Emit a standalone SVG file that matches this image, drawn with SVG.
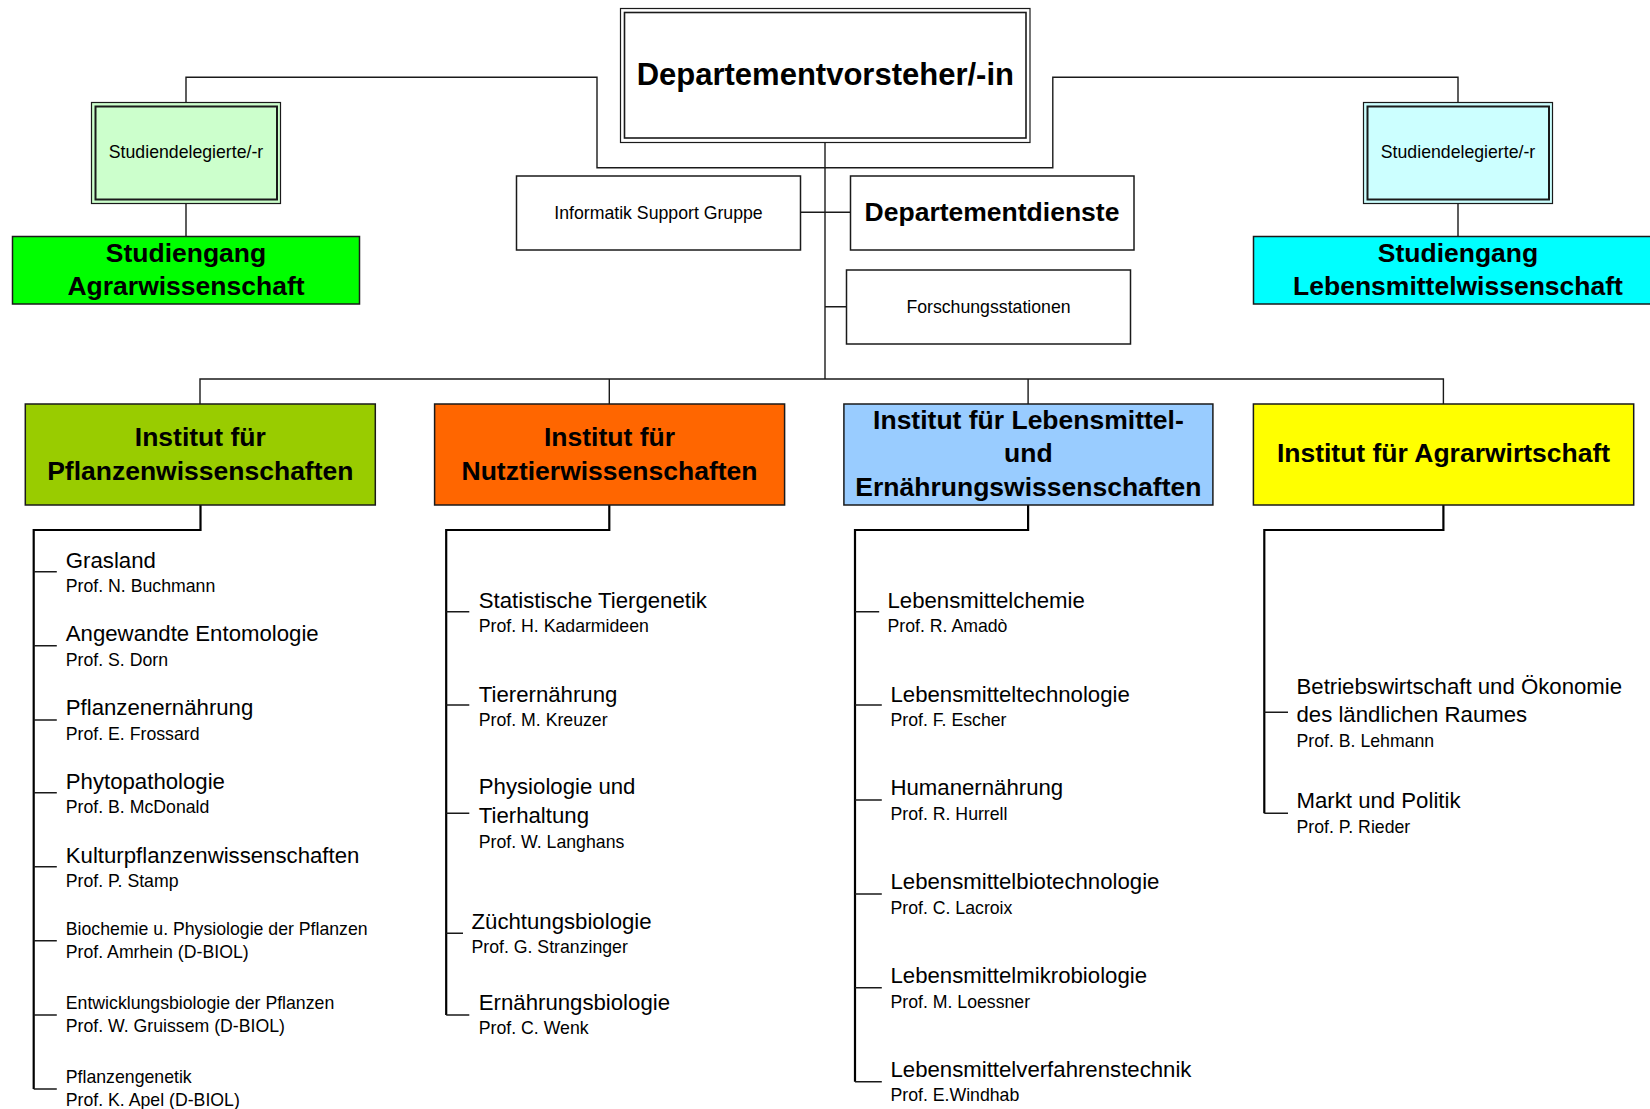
<svg xmlns="http://www.w3.org/2000/svg" width="1650" height="1109" viewBox="0 0 1650 1109">
<style>
text{font-family:"Liberation Sans",Arial,sans-serif;fill:#000}
.h1{font-size:31px;font-weight:bold}
.h2{font-size:26.5px;font-weight:bold}
.t{font-size:22.2px}
.s{font-size:17.7px}
.m{text-anchor:middle}
.box{stroke:#1a1a1a;stroke-width:1.5}
.con{fill:none;stroke:#1a1a1a;stroke-width:1.4}
.col{fill:none;stroke:#000;stroke-width:2.2}
.tick{fill:none;stroke:#1a1a1a;stroke-width:1.4}
</style>
<rect width="1650" height="1109" fill="#fff"/>
<g id="connectors">
<path class="con" d="M186 102.5V77.3H597V167.7H825"/>
<path class="con" d="M1458 102.5V77.3H1052.8V167.7H825"/>
<path class="con" d="M186 203.5V236.5M1458 203.5V236.5"/>
<path class="con" d="M825 142.7V379"/>
<path class="con" d="M800.5 212.3H850.5M825 306.7H846.5"/>
<path class="con" d="M200 404V379H1443.4V404M609.3 379V404M1028.1 379V404"/>
<path class="col" d="M200.5 505V530H33.7V1089"/>
<path class="col" d="M609.3 505V530H446.2V1015"/>
<path class="col" d="M1028.1 505V530H855V1081.7"/>
<path class="col" d="M1443.4 505V530H1264.3V813.3"/>
<path class="tick" d="M33.7 571.7H56.8M33.7 645.7H56.8M33.7 720H56.8M33.7 792.7H56.8M33.7 866.7H56.8M33.7 940.7H56.8M33.7 1015H56.8M33.7 1089H56.8"/>
<path class="tick" d="M446.2 611.7H469.3M446.2 705H469.3M446.2 813.3H469.3M446.2 933.3H463M446.2 1015H469.3"/>
<path class="tick" d="M855 611.7H879.2M855 705H881.8M855 800H881.8M855 894H881.8M855 987.7H881.8M855 1081.7H881.8"/>
<path class="tick" d="M1264.3 712.3H1288M1264.3 813.3H1288"/>
</g>
<g id="vorsteher">
<rect x="620.5" y="8.5" width="409.5" height="134" fill="#fff" stroke="#1a1a1a" stroke-width="1.2"/>
<rect x="624.5" y="12.5" width="401.5" height="125.5" fill="none" stroke="#1a1a1a" stroke-width="1.6"/>
<text class="h1 m" x="825.3" y="84.5">Departementvorsteher/-in</text>
</g>
<g id="studdel-agrar">
<rect x="91.5" y="102.5" width="189" height="101" fill="#CCFFCC" stroke="#1a1a1a" stroke-width="1.2"/>
<rect x="95.5" y="106.5" width="181.5" height="93" fill="none" stroke="#1a1a1a" stroke-width="2"/>
<text class="s m" x="186" y="157.7">Studiendelegierte/-r</text>
</g>
<g id="studdel-leb">
<rect x="1363.5" y="102.5" width="189" height="101" fill="#CCFFFF" stroke="#1a1a1a" stroke-width="1.2"/>
<rect x="1367.5" y="106.5" width="181.5" height="93" fill="none" stroke="#1a1a1a" stroke-width="2"/>
<text class="s m" x="1458" y="157.7">Studiendelegierte/-r</text>
</g>
<g id="studiengang-agrar">
<rect class="box" x="12.5" y="236.5" width="347" height="67.5" fill="#00FF00"/>
<text class="h2 m" x="186" y="261.5">Studiengang</text>
<text class="h2 m" x="186" y="295">Agrarwissenschaft</text>
</g>
<g id="studiengang-leb">
<rect class="box" x="1253.5" y="236.5" width="410" height="67.5" fill="#00FFFF"/>
<text class="h2 m" x="1458" y="261.5">Studiengang</text>
<text class="h2 m" x="1458" y="295">Lebensmittelwissenschaft</text>
</g>
<g id="informatik">
<rect class="box" x="516.5" y="176" width="284" height="74" fill="#fff"/>
<text class="s m" x="658.5" y="218.5">Informatik Support Gruppe</text>
</g>
<g id="dienste">
<rect class="box" x="850.5" y="176" width="283.5" height="74" fill="#fff"/>
<text class="h2 m" x="992" y="221">Departementdienste</text>
</g>
<g id="forschung">
<rect class="box" x="846.5" y="270" width="284" height="74" fill="#fff"/>
<text class="s m" x="988.5" y="313">Forschungsstationen</text>
</g>
<g id="inst-pflanzen">
<rect class="box" x="25.3" y="404" width="350" height="101" fill="#99CC00"/>
<text class="h2 m" x="200.3" y="446">Institut für</text>
<text class="h2 m" x="200.3" y="480">Pflanzenwissenschaften</text>
</g>
<g id="inst-nutztier">
<rect class="box" x="434.6" y="404" width="350" height="101" fill="#FF6600"/>
<text class="h2 m" x="609.5" y="446">Institut für</text>
<text class="h2 m" x="609.5" y="480">Nutztierwissenschaften</text>
</g>
<g id="inst-lebensmittel">
<rect class="box" x="843.9" y="404" width="369" height="101" fill="#99CCFF"/>
<text class="h2 m" x="1028.4" y="428.5">Institut für Lebensmittel-</text>
<text class="h2 m" x="1028.4" y="462">und</text>
<text class="h2 m" x="1028.4" y="496">Ernährungswissenschaften</text>
</g>
<g id="inst-agrarwirtschaft">
<rect class="box" x="1253.4" y="404" width="380.3" height="101" fill="#FFFF00"/>
<text class="h2 m" x="1443.5" y="462">Institut für Agrarwirtschaft</text>
</g>
<g id="col-pflanzen">
<text class="t" x="65.8" y="567.5">Grasland</text><text class="s" x="65.8" y="591.5">Prof. N. Buchmann</text>
<text class="t" x="65.8" y="641">Angewandte Entomologie</text><text class="s" x="65.8" y="665.5">Prof. S. Dorn</text>
<text class="t" x="65.8" y="715">Pflanzenernährung</text><text class="s" x="65.8" y="739.5">Prof. E. Frossard</text>
<text class="t" x="65.8" y="788.5">Phytopathologie</text><text class="s" x="65.8" y="812.5">Prof. B. McDonald</text>
<text class="t" x="65.8" y="862.5">Kulturpflanzenwissenschaften</text><text class="s" x="65.8" y="886.5">Prof. P. Stamp</text>
<text class="s" x="65.8" y="934.5">Biochemie u. Physiologie der Pflanzen</text><text class="s" x="65.8" y="958">Prof. Amrhein (D-BIOL)</text>
<text class="s" x="65.8" y="1008.8">Entwicklungsbiologie der Pflanzen</text><text class="s" x="65.8" y="1032">Prof. W. Gruissem (D-BIOL)</text>
<text class="s" x="65.8" y="1082.8">Pflanzengenetik</text><text class="s" x="65.8" y="1106">Prof. K. Apel (D-BIOL)</text>
</g>
<g id="col-nutztier">
<text class="t" x="478.8" y="607.5">Statistische Tiergenetik</text><text class="s" x="478.8" y="631.5">Prof. H. Kadarmideen</text>
<text class="t" x="478.8" y="701.5">Tierernährung</text><text class="s" x="478.8" y="725.5">Prof. M. Kreuzer</text>
<text class="t" x="478.8" y="794">Physiologie und</text><text class="t" x="478.8" y="823.3">Tierhaltung</text><text class="s" x="478.8" y="848">Prof. W. Langhans</text>
<text class="t" x="471.5" y="929">Züchtungsbiologie</text><text class="s" x="471.5" y="953">Prof. G. Stranzinger</text>
<text class="t" x="478.8" y="1010">Ernährungsbiologie</text><text class="s" x="478.8" y="1034">Prof. C. Wenk</text>
</g>
<g id="col-lebensmittel">
<text class="t" x="887.5" y="607.5">Lebensmittelchemie</text><text class="s" x="887.5" y="631.5">Prof. R. Amadò</text>
<text class="t" x="890.5" y="701.5">Lebensmitteltechnologie</text><text class="s" x="890.5" y="725.5">Prof. F. Escher</text>
<text class="t" x="890.5" y="795">Humanernährung</text><text class="s" x="890.5" y="819.5">Prof. R. Hurrell</text>
<text class="t" x="890.5" y="889.3">Lebensmittelbiotechnologie</text><text class="s" x="890.5" y="913.5">Prof. C. Lacroix</text>
<text class="t" x="890.5" y="983.3">Lebensmittelmikrobiologie</text><text class="s" x="890.5" y="1007.5">Prof. M. Loessner</text>
<text class="t" x="890.5" y="1076.7">Lebensmittelverfahrenstechnik</text><text class="s" x="890.5" y="1101">Prof. E.Windhab</text>
</g>
<g id="col-agrarwirtschaft">
<text class="t" x="1296.5" y="694">Betriebswirtschaft und Ökonomie</text><text class="t" x="1296.5" y="722">des ländlichen Raumes</text><text class="s" x="1296.5" y="747">Prof. B. Lehmann</text>
<text class="t" x="1296.5" y="808.3">Markt und Politik</text><text class="s" x="1296.5" y="832.5">Prof. P. Rieder</text>
</g>
</svg>
